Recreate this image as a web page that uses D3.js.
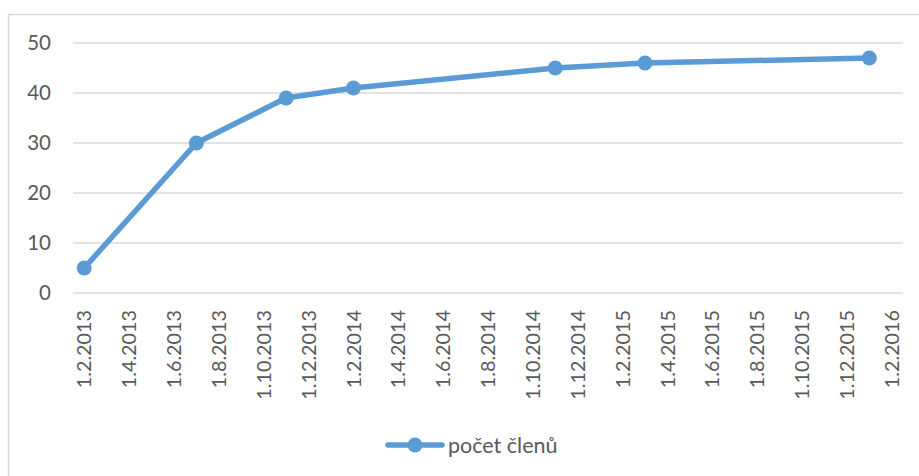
<!DOCTYPE html>
<html>
<head>
<meta charset="utf-8">
<script src="https://cdn.jsdelivr.net/npm/d3@7"></script>
<style>
  html, body { margin: 0; padding: 0; background: #fff; }
  svg { display: block; }
  text { font-family: Lato, "Open Sans", sans-serif; fill: #595959; }
</style>
</head>
<body>
<svg id="chart" width="919" height="476"></svg>
<script>
// Membership count over time (date axis with monthly base unit)
const dates = ["1.2.2013", "1.7.2013", "1.11.2013", "1.2.2014", "1.11.2014", "1.3.2015", "1.1.2016"];
const members = [5, 30, 39, 41, 45, 46, 47];
const seriesName = "počet členů";
const yTicks = [0, 10, 20, 30, 40, 50];
const axisStart = "1.2.2013";
const axisEnd = "1.2.2016";
const tickStepMonths = 2;

const W = 919, H = 476;
const plot = { left: 73, right: 903, top: 43, bottom: 293 };
const blue = "#5b9bd5";
const grid = "#d9d9d9";

// "d.m.yyyy" -> absolute month number
function monthOf(s) {
  const [d, m, y] = s.split(".").map(Number);
  return y * 12 + (m - 1);
}
function label(mAbs) {
  return "1." + (mAbs % 12 + 1) + "." + Math.floor(mAbs / 12);
}

const m0 = monthOf(axisStart), m1 = monthOf(axisEnd);
const months = d3.range(m0, m1 + 1);

const x = d3.scaleBand().domain(months).range([plot.left, plot.right]).padding(0);
const xc = m => x(m) + x.bandwidth() / 2;
const y = d3.scaleLinear().domain([0, 50]).range([plot.bottom, plot.top]);

const svg = d3.select("#chart");

// chart frame
svg.append("rect")
  .attr("x", 8.5).attr("y", 14.5)
  .attr("width", W + 20).attr("height", H + 20)
  .attr("fill", "#fff").attr("stroke", grid).attr("stroke-width", 1.5);

// horizontal gridlines
svg.append("g").selectAll("line").data(yTicks).join("line")
  .attr("x1", plot.left).attr("x2", plot.right)
  .attr("y1", d => y(d)).attr("y2", d => y(d))
  .attr("stroke", grid).attr("stroke-width", 1.5);

// y-axis labels
svg.append("g").selectAll("text").data(yTicks).join("text")
  .attr("x", 51).attr("y", d => y(d))
  .attr("dy", "0.36em")
  .attr("text-anchor", "end")
  .style("font-size", "20.5px")
  .text(d => d);

// x-axis labels, every second month, rotated
const tickMonths = months.filter(m => (m - m0) % tickStepMonths === 0);
svg.append("g").selectAll("text").data(tickMonths).join("text")
  .attr("transform", m => `translate(${xc(m)},310) rotate(-90)`)
  .attr("dy", "0.36em")
  .attr("text-anchor", "end")
  .style("font-size", "19.8px")
  .text(m => label(m));

// series line
const pts = dates.map((d, i) => ({ m: monthOf(d), v: members[i] }));
svg.append("path")
  .datum(pts)
  .attr("fill", "none")
  .attr("stroke", blue)
  .attr("stroke-width", 5.5)
  .attr("stroke-linejoin", "round")
  .attr("stroke-linecap", "round")
  .attr("d", d3.line().x(p => xc(p.m)).y(p => y(p.v)));

// markers
svg.append("g").selectAll("circle").data(pts).join("circle")
  .attr("cx", p => xc(p.m)).attr("cy", p => y(p.v))
  .attr("r", 7.5).attr("fill", blue);

// legend
const lg = svg.append("g").attr("transform", "translate(388,445)");
lg.append("line").attr("x1", 0).attr("x2", 54).attr("y1", 0).attr("y2", 0)
  .attr("stroke", blue).attr("stroke-width", 5.5).attr("stroke-linecap", "round");
lg.append("circle").attr("cx", 27).attr("cy", 0).attr("r", 7.5).attr("fill", blue);
lg.append("text").attr("x", 60).attr("y", 0).attr("dy", "0.36em")
  .style("font-size", "21.5px")
  .text(seriesName);
</script>
</body>
</html>
